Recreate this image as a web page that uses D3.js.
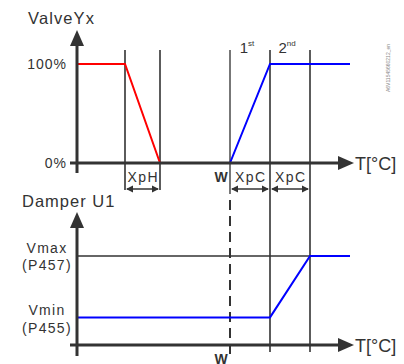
<!DOCTYPE html>
<html>
<head>
<meta charset="utf-8">
<script src="https://cdn.jsdelivr.net/npm/d3@7"></script>
<style>
  html, body { margin: 0; padding: 0; background: #fff; }
  svg { display: block; font-family: "Liberation Sans", Arial, sans-serif; }
</style>
</head>
<body>
<svg id="chart" width="404" height="364"></svg>
<script>
// Temperature positions (arbitrary units along T axis)
const heatingX = [0, 4.8, 8.3];            // valve heating sequence: start, XpH start, XpH end
const heatingY = [100, 100, 0];             // valve position %
const coolingX = [15.3, 19.3, 27.3];        // W, end of 1st XpC, right end
const coolingY = [0, 100, 100];
const damperX = [0, 19.3, 23.3, 27.3];      // damper output breakpoints
const damperY = [31, 31, 100, 100];          // % of signal range (Vmin=31, Vmax=100)
const valveTicks = [{v: 100, label: "100%"}, {v: 0, label: "0%"}];
const bandLabels = [
  {from: 4.8, to: 8.3, label: "XpH"},
  {from: 15.3, to: 19.3, label: "XpC"},
  {from: 19.3, to: 23.3, label: "XpC"}
];
const stageLabels = [
  {from: 15.3, to: 19.3, main: "1", sup: "st"},
  {from: 19.3, to: 23.3, main: "2", sup: "nd"}
];
const damperLabels = [
  {t: "Vmax", y: 253}, {t: "(P457)", y: 270},
  {t: "Vmin", y: 315}, {t: "(P455)", y: 333}
];
const wPos = 15.3;

const svg = d3.select("#chart");
const ink = "#333";

const x = d3.scaleLinear().domain([0, 27.3]).range([77, 350]);
const yTop = d3.scaleLinear().domain([0, 100]).range([163, 64]);
const yBot = d3.scaleLinear().domain([0, 100]).range([345, 256]);

// ---------- vertical guides ----------
const g = svg.append("g");
// XpH guides: top chart only, down to the span arrow
[4.8, 8.3].forEach(v => {
  g.append("line").attr("x1", x(v)).attr("x2", x(v)).attr("y1", 50).attr("y2", 190)
    .attr("stroke", ink).attr("stroke-width", 1.6);
});
// W guide: solid above, dashed through the damper chart
g.append("line").attr("x1", x(wPos)).attr("x2", x(wPos)).attr("y1", 50).attr("y2", 194)
  .attr("stroke", "#555").attr("stroke-width", 1.6);
g.append("line").attr("x1", x(wPos)).attr("x2", x(wPos)).attr("y1", 200).attr("y2", 354)
  .attr("stroke", ink).attr("stroke-width", 2).attr("stroke-dasharray", "10,6");
// Cooling guides span both charts
[19.3, 23.3].forEach(v => {
  g.append("line").attr("x1", x(v)).attr("x2", x(v)).attr("y1", 50).attr("y2", 352)
    .attr("stroke", ink).attr("stroke-width", 1.6);
});

// Vmax reference line
g.append("line").attr("x1", x(0)).attr("x2", x(23.3)).attr("y1", yBot(100)).attr("y2", yBot(100))
  .attr("stroke", ink).attr("stroke-width", 1.4);

// ---------- curves ----------
const lineTop = d3.line().x(d => x(d[0])).y(d => yTop(d[1]));
const lineBot = d3.line().x(d => x(d[0])).y(d => yBot(d[1]));

svg.append("path").datum(d3.zip(heatingX, heatingY)).attr("d", lineTop)
  .attr("fill", "none").attr("stroke", "#ff0000").attr("stroke-width", 2);
svg.append("path").datum(d3.zip(coolingX, coolingY)).attr("d", lineTop)
  .attr("fill", "none").attr("stroke", "#0000ff").attr("stroke-width", 2);
svg.append("path").datum(d3.zip(damperX, damperY)).attr("d", lineBot)
  .attr("fill", "none").attr("stroke", "#0000ff").attr("stroke-width", 2);

// ---------- axes ----------
function drawAxes(yAxisTop, yAxisBottom, xAxisY) {
  const ax = svg.append("g");
  ax.append("line").attr("x1", 77).attr("x2", 77).attr("y1", yAxisTop + 14).attr("y2", yAxisBottom)
    .attr("stroke", ink).attr("stroke-width", 3);
  ax.append("path").attr("d", `M77,${yAxisTop} L84,${yAxisTop + 16} L70,${yAxisTop + 16} Z`).attr("fill", ink);
  ax.append("line").attr("x1", 70).attr("x2", 340).attr("y1", xAxisY).attr("y2", xAxisY)
    .attr("stroke", ink).attr("stroke-width", 3);
  ax.append("path").attr("d", `M354,${xAxisY} L338,${xAxisY - 7} L338,${xAxisY + 7} Z`).attr("fill", ink);
  ax.append("text").attr("x", 355).attr("y", xAxisY + 7).attr("font-size", 18).attr("fill", ink)
    .text("T[°C]");
}
drawAxes(30, 173, yTop(0));
drawAxes(212, 356, yBot(0));

// ---------- text ----------
svg.append("text").attr("x", 28).attr("y", 24).attr("font-size", 16.5).attr("letter-spacing", 1.1)
  .attr("fill", ink).text("ValveYx");
svg.append("text").attr("x", 22).attr("y", 207).attr("font-size", 16.5).attr("letter-spacing", 1.0)
  .attr("fill", ink).text("Damper U1");

svg.selectAll(".vt").data(valveTicks).enter().append("text")
  .attr("x", 67).attr("y", d => yTop(d.v) + 5).attr("text-anchor", "end")
  .attr("font-size", 14).attr("letter-spacing", 1).attr("fill", ink).text(d => d.label);

damperLabels.forEach(d => {
  svg.append("text").attr("x", 47).attr("y", d.y).attr("text-anchor", "middle")
    .attr("font-size", 14).attr("letter-spacing", 1.3).attr("fill", ink).text(d.t);
});

// Stage labels
stageLabels.forEach(d => {
  const t = svg.append("text").attr("x", (x(d.from) + x(d.to)) / 2 - 3).attr("y", 53)
    .attr("text-anchor", "middle").attr("font-size", 15).attr("fill", ink);
  t.append("tspan").text(d.main);
  t.append("tspan").attr("dy", -7).attr("font-size", 8).text(d.sup);
});

// Band spans with double arrows
function arrowHead(xp, yp, dir) {
  svg.append("path")
    .attr("d", `M${xp},${yp} L${xp + dir * 7},${yp - 3.5} L${xp + dir * 7},${yp + 3.5} Z`)
    .attr("fill", ink);
}
bandLabels.forEach(d => {
  const x0 = x(d.from), x1 = x(d.to), yA = 189;
  svg.append("line").attr("x1", x0 + 2).attr("x2", x1 - 2).attr("y1", yA).attr("y2", yA)
    .attr("stroke", ink).attr("stroke-width", 1.5);
  arrowHead(x0 + 1, yA, 1);
  arrowHead(x1 - 1, yA, -1);
  svg.append("text").attr("x", (x0 + x1) / 2 + 0.7).attr("y", 182).attr("text-anchor", "middle")
    .attr("font-size", 14).attr("letter-spacing", 1.4).attr("fill", ink).text(d.label);
});

// W markers
svg.append("text").attr("x", x(wPos) - 9).attr("y", 182).attr("text-anchor", "middle")
  .attr("font-size", 14).attr("font-weight", "bold").attr("fill", ink).text("W");
svg.append("text").attr("x", x(wPos) - 9).attr("y", 364).attr("text-anchor", "middle")
  .attr("font-size", 14).attr("font-weight", "bold").attr("fill", ink).text("W");

// Document reference code, vertical at right edge
svg.append("text").attr("transform", "translate(390,92) rotate(-90)")
  .attr("font-size", 5).attr("fill", "#888").text("A6V11545660212_en");
</script>
</body>
</html>
